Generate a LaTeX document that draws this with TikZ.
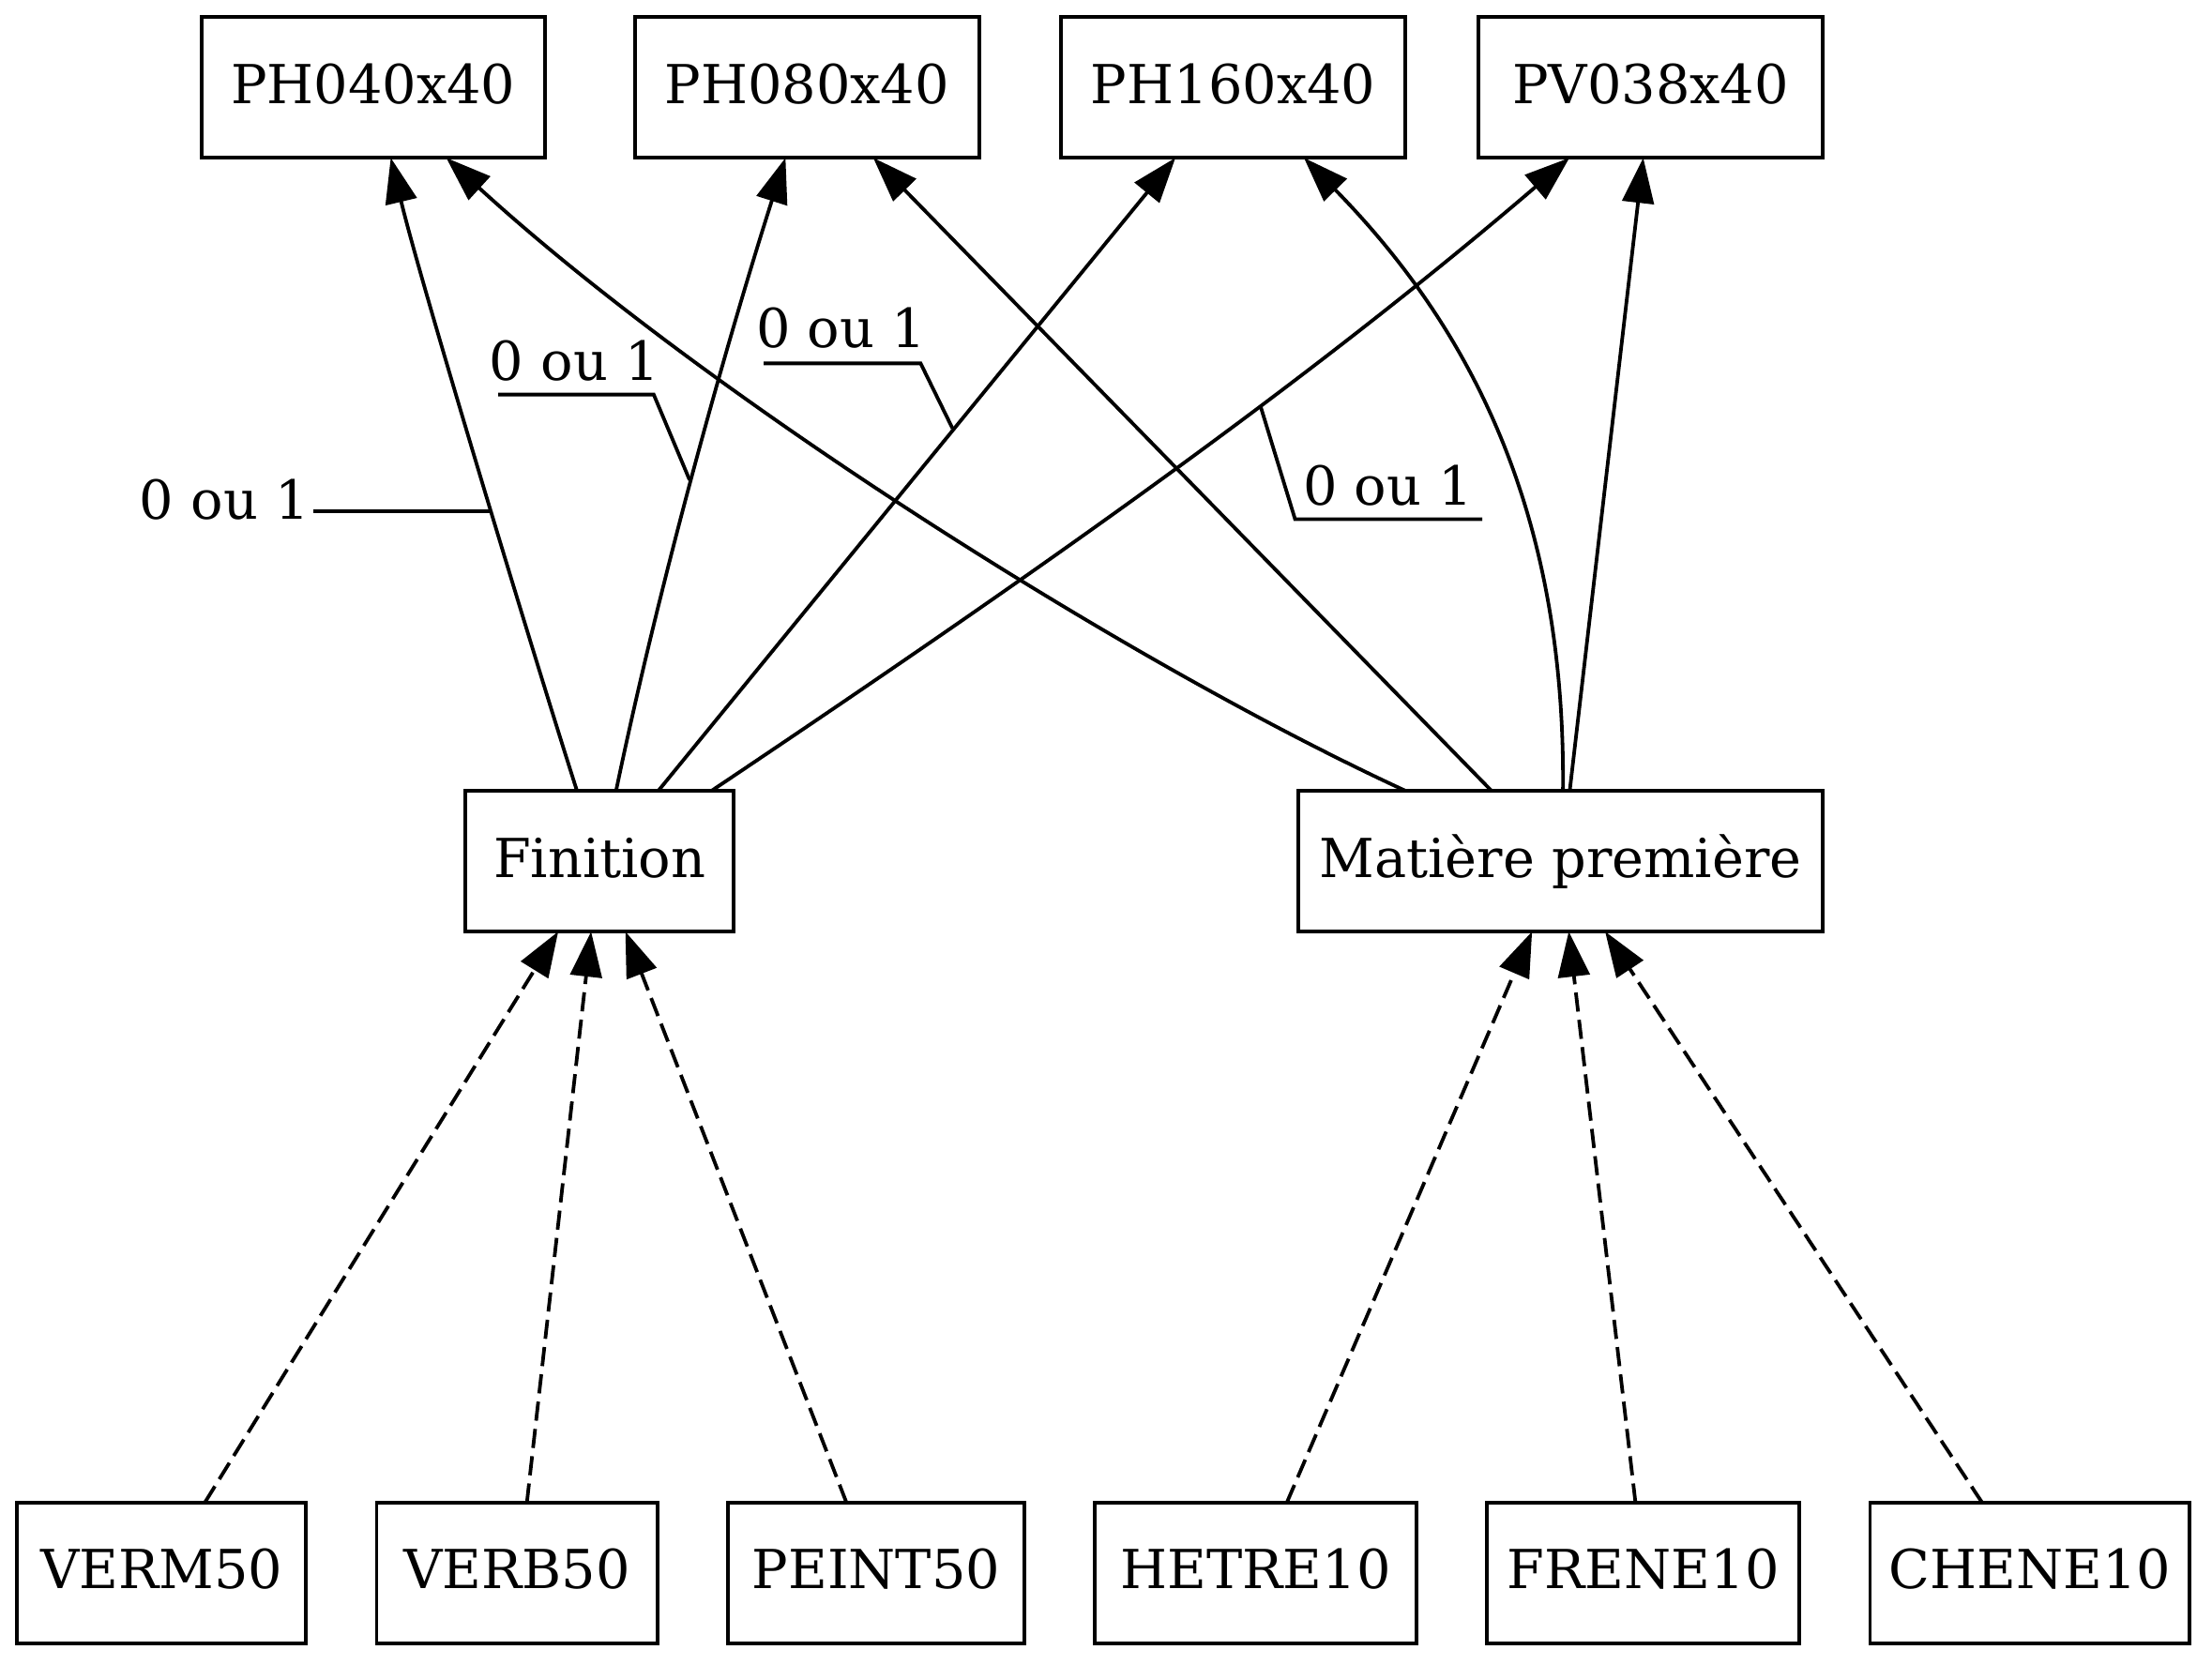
\documentclass[tikz,border=0pt]{standalone}
\usepackage{fontspec}
\setmainfont{DejaVu Serif}
\usetikzlibrary{arrows.meta,calc}
\begin{document}
\begin{tikzpicture}[x=0.375pt,y=-0.375pt,
  box/.style={draw, line width=0.95pt, inner sep=0pt, outer sep=0pt,
    minimum height=37.4pt, text height=10.5pt, text depth=2pt,
    font=\fontsize{14.3}{17}\selectfont},
  lab/.style={inner sep=0pt, anchor=base west, font=\fontsize{14.3}{17}\selectfont},
  edge/.style={line width=0.95pt, -{Triangle[length=12pt,width=8.4pt]}},
  dep/.style={edge, dash pattern=on 5.1pt off 2.2pt},
  lead/.style={line width=0.95pt}]
\useasboundingbox (0,0) rectangle (1568,1180);

% top row
\node[box, minimum width=91.2pt] (ph040) at (264.5,62) {PH040x40};
\node[box, minimum width=91.5pt] (ph080) at (572,62) {PH080x40};
\node[box, minimum width=91.6pt] (ph160) at (874.2,62) {PH160x40};
\node[box, minimum width=91.5pt] (pv038) at (1170,62) {PV038x40};
% middle row
\node[box, minimum width=71.2pt] (fin) at (425,610.5) {Finition};
\node[box, minimum width=139.4pt] (mat) at (1106.2,610.5) {Matière première};
% bottom row
\node[box, minimum width=76.9pt] (verm) at (114.5,1115) {VERM50};
\node[box, minimum width=74.6pt] (verb) at (366.5,1115) {VERB50};
\node[box, minimum width=78.75pt] (peint) at (621,1115) {PEINT50};
\node[box, minimum width=85.5pt] (hetre) at (890,1115) {HETRE10};
\node[box, minimum width=83.1pt] (frene) at (1164.8,1115) {FRENE10};
\node[box, minimum width=84.9pt] (chene) at (1438.8,1115) {CHENE10};

% edges Finition -> top
\draw[edge] ($(fin.north)+(-16,0)$) .. controls (380,470) and (298,200) .. ($(ph040.south)+(12.5,0)$);
\draw[edge] ($(fin.north)+(11.7,0)$) .. controls (468,410) and (516,240) .. ($(ph080.south)+(-15.2,0)$);
\draw[edge] ($(fin.north)+(41.6,0)$) -- ($(ph160.south)+(-41,0)$);
\draw[edge] ($(fin.north)+(79.3,0)$) .. controls (738,404) and (928,270) .. ($(pv038.south)+(-57.5,0)$);

% edges Matiere -> top
\draw[edge] ($(mat.north)+(-109.8,0)$) .. controls (800,470) and (500,280) .. ($(ph040.south)+(51.8,0)$);
\draw[edge] ($(mat.north)+(-48.9,0)$) -- ($(ph080.south)+(47,0)$);
\draw[edge] ($(mat.north)+(1.7,0)$) .. controls (1110,360) and (1040,230) .. ($(ph160.south)+(50.1,0)$);
\draw[edge] ($(mat.north)+(6.5,0)$) -- ($(pv038.south)+(-5.2,0)$);

% dashed edges
\draw[dep] ($(verm.north)+(30.7,0)$) -- ($(fin.south)+(-29.3,0)$);
\draw[dep] ($(verb.north)+(7,0)$) -- ($(fin.south)+(-6,0)$);
\draw[dep] ($(peint.north)+(-21,0)$) -- ($(fin.south)+(18.3,0)$);
\draw[dep] ($(hetre.north)+(22.2,0)$) -- ($(mat.south)+(-20.2,0)$);
\draw[dep] ($(frene.north)+(-5.5,0)$) -- ($(mat.south)+(5.8,0)$);
\draw[dep] ($(chene.north)+(-33.8,0)$) -- ($(mat.south)+(31.6,0)$);

% labels
\node[lab] (l1) at (98.5,368) {0 ou 1};
\node[lab] (l2) at (346.5,269.3) {0 ou 1};
\node[lab] (l3) at (535.5,246.5) {0 ou 1};
\node[lab] (l4) at (923.3,358) {0 ou 1};

% leaders
\coordinate (a1) at (346.8,362.4);
\coordinate (a2) at (488.8,340.2);
\coordinate (a3) at (675.2,303.7);
\coordinate (a4) at (893.6,288.2);
\draw[lead] (221.8,362.4) -- (a1);
\draw[lead] (353.2,279.7) -- (463.4,279.7) -- (a2);
\draw[lead] (541.3,257.6) -- (652.6,257.6) -- (a3);
\draw[lead] (a4) -- (918,368) -- (1050.8,368);
\end{tikzpicture}
\end{document}
